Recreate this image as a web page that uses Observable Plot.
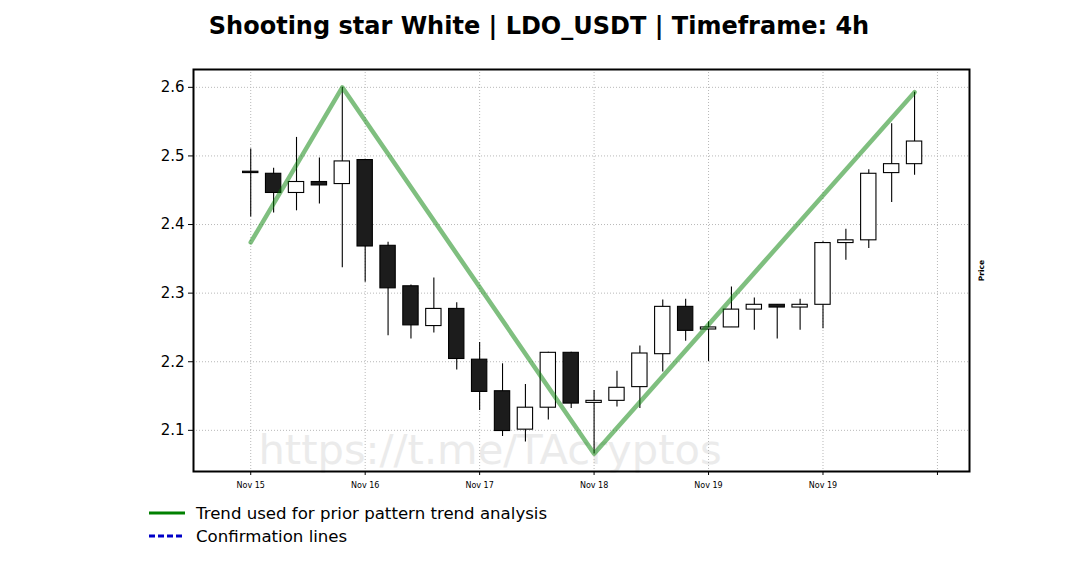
<!DOCTYPE html>
<html>
<head>
<meta charset="utf-8">
<script src="https://cdn.jsdelivr.net/npm/d3@7"></script>
<script src="https://cdn.jsdelivr.net/npm/@observablehq/plot@0.6"></script>
<style>
  body { margin: 0; background: #fff; font-family: "DejaVu Sans", sans-serif; }
  #wrap { position: relative; width: 1078px; height: 575px; overflow: hidden; background: #fff; }
  #chart { position: absolute; left: 0; top: 0; }
  #title { position: absolute; left: 0; top: 12px; width: 1078px; text-align: center;
           font-weight: bold; font-size: 24px; color: #000; }
  .leg { position: absolute; left: 148px; height: 22px; display: flex; align-items: center;
         font-size: 16.6px; color: #000; white-space: nowrap; }
  .leg svg { margin-right: 10px; }
</style>
</head>
<body>
<div id="wrap">
  <div id="chart"></div>
  <div id="title">Shooting star White | LDO_USDT | Timeframe: 4h</div>
  <div id="legend"></div>
</div>
<script>
// ---- Data ----
const candleIndex = [0,1,2,3,4,5,6,7,8,9,10,11,12,13,14,15,16,17,18,19,20,21,22,23,24,25,26,27,28,29];
const openValues  = [2.477,2.474,2.446,2.462,2.459,2.494,2.369,2.310,2.252,2.277,2.203,2.157,2.101,2.133,2.213,2.140,2.143,2.163,2.211,2.280,2.247,2.250,2.276,2.283,2.279,2.283,2.373,2.377,2.475,2.488];
const highValues  = [2.510,2.482,2.527,2.497,2.600,2.495,2.374,2.312,2.322,2.286,2.228,2.197,2.167,2.214,2.214,2.158,2.186,2.223,2.290,2.291,2.258,2.309,2.293,2.283,2.291,2.375,2.393,2.480,2.547,2.593];
const lowValues   = [2.411,2.417,2.420,2.430,2.337,2.316,2.238,2.233,2.242,2.188,2.129,2.091,2.083,2.115,2.132,2.066,2.134,2.132,2.185,2.230,2.200,2.250,2.246,2.233,2.246,2.248,2.348,2.365,2.432,2.472];
const closeValues = [2.475,2.446,2.462,2.457,2.492,2.368,2.307,2.253,2.277,2.204,2.156,2.099,2.133,2.213,2.139,2.143,2.162,2.212,2.280,2.245,2.250,2.276,2.283,2.279,2.283,2.373,2.377,2.474,2.488,2.521];

const trendIndex  = [0, 4, 15, 29];
const trendValues = [2.374, 2.600, 2.066, 2.593];

const xTickIndex  = [0, 5, 10, 15, 20, 25, 30];
const xTickLabels = ["Nov 15", "Nov 16", "Nov 17", "Nov 18", "Nov 19", "Nov 19", ""];
const yTicks      = [2.1, 2.2, 2.3, 2.4, 2.5, 2.6];

const titleText = "Shooting star White | LDO_USDT | Timeframe: 4h";
const watermark = "https://t.me/TAcryptos";
const yLabel = "Price";
const legendItems = [
  {label: "Trend used for prior pattern trend analysis", color: "#008000", dash: null},
  {label: "Confirmation lines", color: "#0000c8", dash: "6,3"}
];

// ---- Build tables ----
const candles = candleIndex.map((i, k) => ({
  i, open: openValues[k], high: highValues[k], low: lowValues[k], close: closeValues[k]
}));
const trend = trendIndex.map((i, k) => ({i, v: trendValues[k]}));

const half = 0.335;
const font = "DejaVu Sans, sans-serif";

const chart = Plot.plot({
  width: 1078,
  height: 575,
  marginLeft: 193,
  marginRight: 109,
  marginTop: 69,
  marginBottom: 104,
  style: {fontFamily: font, background: "white", color: "black"},
  x: {domain: [-2.5, 31.4]},
  y: {domain: [2.040, 2.626]},
  marks: [
    Plot.text([watermark], {
      frameAnchor: "bottom-left", textAnchor: "start", lineAnchor: "middle",
      dx: 65, dy: -21, fontSize: 41.6, fill: "#ebebeb"
    }),
    Plot.gridX({ticks: xTickIndex, stroke: "#b8b8b8", strokeOpacity: 1, strokeDasharray: "1,2"}),
    Plot.gridY({ticks: yTicks, stroke: "#b8b8b8", strokeOpacity: 1, strokeDasharray: "1,2"}),
    Plot.ruleX(candles, {x: "i", y1: "low", y2: "high", stroke: "black", strokeWidth: 1.1}),
    Plot.rect(candles, {
      x1: d => d.i - half, x2: d => d.i + half,
      y1: d => Math.min(d.open, d.close), y2: d => Math.max(d.open, d.close),
      fill: d => d.close >= d.open ? "white" : "#1c1c1c",
      stroke: "black", strokeWidth: 1.1
    }),
    Plot.line(trend, {x: "i", y: "v", stroke: "#008000", strokeOpacity: 0.5, strokeWidth: 4.5}),
    Plot.axisY({ticks: yTicks, tickFormat: d3.format(".1f"), fontSize: 15, tickSize: 5, tickPadding: 4, label: null}),
    Plot.axisX({ticks: xTickIndex, tickFormat: d => xTickLabels[xTickIndex.indexOf(d)],
                fontSize: 8, tickSize: 4, tickPadding: 7, label: null}),
    Plot.text([yLabel], {frameAnchor: "right", textAnchor: "middle", dx: 12, rotate: -90,
                         fontSize: 7.5, fontWeight: "bold", fill: "black"}),
    Plot.frame({stroke: "black", strokeWidth: 2})
  ]
});
document.getElementById("chart").appendChild(chart);
document.getElementById("title").textContent = titleText;

// ---- Legend ----
const legend = document.getElementById("legend");
legendItems.forEach((item, k) => {
  const row = document.createElement("div");
  row.className = "leg";
  row.style.top = (502 + k * 23) + "px";
  row.innerHTML = `<svg width="38" height="6"><line x1="1" x2="37" y1="3" y2="3" stroke="${item.color}" stroke-width="3"${item.dash ? ` stroke-dasharray="${item.dash}"` : ""}/></svg><span>${item.label}</span>`;
  legend.appendChild(row);
});
</script>
</body>
</html>
